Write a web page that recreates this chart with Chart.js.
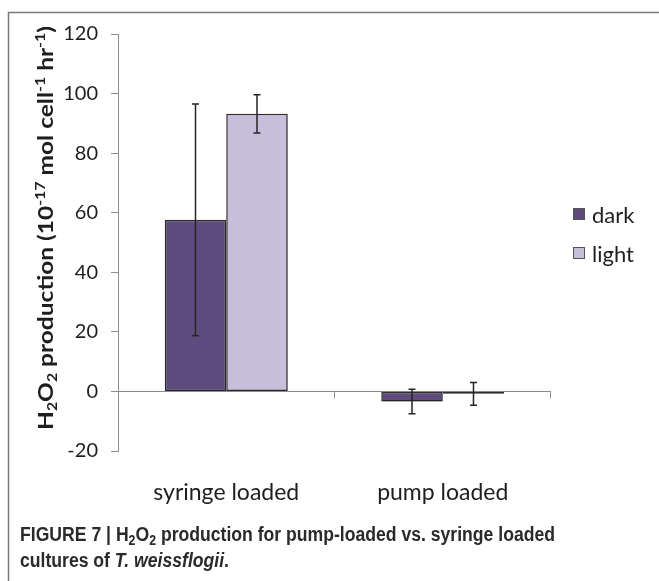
<!DOCTYPE html>
<html><head><meta charset="utf-8">
<script src="https://cdn.jsdelivr.net/npm/chart.js@4.4.1/dist/chart.umd.min.js"></script>
<style>
html,body{margin:0;padding:0;background:#fff;}
#wrap{position:relative;width:659px;height:581px;overflow:hidden;}
#c{position:absolute;left:0;top:0;}
#cap{position:absolute;left:20px;top:521px;font:bold 20px 'Liberation Sans',Arial,sans-serif;line-height:26px;color:#2a2a2a;white-space:nowrap;transform-origin:0 0;}
#cap span.ln{display:inline-block;}
#cap sub{font-size:14px;line-height:0;position:relative;top:1px;vertical-align:-3px;}
</style>
</head><body>
<div id="wrap">
<canvas id="c" width="659" height="581"></canvas>
<div id="cap"><span class="ln" id="l1">FIGURE 7 | H<sub>2</sub>O<sub>2</sub> production for pump-loaded vs. syringe loaded</span><br><span class="ln">cultures of <i>T. weissflogii</i>.</span></div>
</div>
<script>
// ---- data ----
const categories = ['syringe loaded', 'pump loaded'];
const seriesNames = ['dark', 'light'];
const darkValues = [57.6, -3.4];
const lightValues = [93.2, -0.8];
const darkErrors = [38.9, 4.1];
const lightErrors = [6.4, 3.8];
const yTicks = [-20, 0, 20, 40, 60, 80, 100, 120];
const yTitleParts = [
  ['H', 0], ['2', 1], ['O', 0], ['2', 1], [' production (10', 0], ['-17', -1],
  [' mol cell', 0], ['-1', -1], [' hr', 0], ['-1', -1], [')', 0]
];

const AXIS = '#8c8c8c';
const TXT = '#1e1e1e';
const FONT = 'Lato, "Open Sans", sans-serif';

const frameAndExtras = {
  id: 'extras',
  beforeDraw(chart) {
    const ctx = chart.ctx;
    ctx.save();
    ctx.strokeStyle = '#7a7a7a';
    ctx.lineWidth = 1.5;
    ctx.beginPath();
    ctx.moveTo(8.5, 581); ctx.lineTo(8.5, 12.5); ctx.lineTo(659, 12.5);
    ctx.stroke();
    ctx.restore();
  },
  beforeDatasetDraw(chart) {
    const ctx = chart.ctx;
    ctx.save();
    ctx.shadowColor = 'rgba(0,0,0,0.28)';
    ctx.shadowBlur = 3;
    ctx.shadowOffsetX = 1;
    ctx.shadowOffsetY = 2;
  },
  afterDatasetDraw(chart) {
    chart.ctx.restore();
  },
  afterDatasetsDraw(chart) {
    const ctx = chart.ctx;
    const ys = chart.scales.y;
    const area = chart.chartArea;
    ctx.save();
    // category boundary tick marks below the zero line
    const y0 = Math.round(ys.getPixelForValue(0)) + 0.5;
    ctx.strokeStyle = AXIS; ctx.lineWidth = 1;
    const n = categories.length;
    for (let i = 1; i <= n; i++) {
      const x = Math.round(area.left + (area.right - area.left) * i / n) - 0.5;
      ctx.beginPath(); ctx.moveTo(x, y0); ctx.lineTo(x, y0 + 7); ctx.stroke();
    }
    // error bars
    const errs = [darkErrors, lightErrors];
    ctx.strokeStyle = '#262626'; ctx.lineWidth = 1.5;
    chart.data.datasets.forEach((ds, di) => {
      const meta = chart.getDatasetMeta(di);
      meta.data.forEach((el, j) => {
        const v = ds.data[j], e = errs[di][j];
        const x = el.x;
        const yt = ys.getPixelForValue(v + e), yb = ys.getPixelForValue(v - e);
        ctx.beginPath();
        ctx.moveTo(x, yt); ctx.lineTo(x, yb);
        ctx.moveTo(x - 3.5, yt); ctx.lineTo(x + 3.5, yt);
        ctx.moveTo(x - 3.5, yb); ctx.lineTo(x + 3.5, yb);
        ctx.stroke();
      });
    });
    ctx.restore();
  },
  afterDraw(chart) {
    const ctx = chart.ctx;
    ctx.save();
    // legend
    const items = chart.data.datasets;
    const legY = [214, 253];
    items.forEach((ds, i) => {
      const cy = legY[i];
      ctx.fillStyle = ds.backgroundColor;
      ctx.fillRect(573, cy - 6, 11, 11);
      ctx.strokeStyle = '#555'; ctx.lineWidth = 1;
      ctx.strokeRect(573.5, cy - 5.5, 11, 11);
      ctx.fillStyle = TXT;
      ctx.font = '22px ' + FONT;
      ctx.textBaseline = 'alphabetic';
      ctx.textAlign = 'left';
      ctx.fillText(ds.label, 592, cy + 9);
    });
    // y-axis title with sub/superscripts
    const big = 'bold 20px ' + FONT, small = 'bold 13px ' + FONT;
    let total = 0;
    yTitleParts.forEach(([t, k]) => { ctx.font = k ? small : big; total += ctx.measureText(t).width; });
    const target = 404;
    const sx = target / total;
    ctx.translate(53, 228);
    ctx.rotate(-Math.PI / 2);
    ctx.scale(sx, 1);
    ctx.fillStyle = TXT;
    ctx.textBaseline = 'alphabetic';
    ctx.textAlign = 'left';
    let x = -total / 2;
    yTitleParts.forEach(([t, k]) => {
      ctx.font = k ? small : big;
      const dy = k === 1 ? 4 : (k === -1 ? -8 : 0);
      ctx.fillText(t, x, dy);
      x += ctx.measureText(t).width;
    });
    ctx.restore();
  }
};

new Chart(document.getElementById('c'), {
  type: 'bar',
  data: {
    labels: categories,
    datasets: [
      { label: seriesNames[0], data: darkValues, backgroundColor: '#5e4a7c', borderColor: '#2e2e2e', borderWidth: 1.5, borderSkipped: false },
      { label: seriesNames[1], data: lightValues, backgroundColor: '#c7bedb', borderColor: '#2e2e2e', borderWidth: 1.5, borderSkipped: false }
    ]
  },
  options: {
    responsive: false,
    animation: false,
    devicePixelRatio: 1,
    layout: { padding: { left: 0, top: 34, right: 108, bottom: 0 } },
    plugins: { legend: { display: false }, tooltip: { enabled: false } },
    datasets: { bar: { categoryPercentage: 0.568, barPercentage: 1.0 } },
    scales: {
      x: {
        grid: { display: false },
        border: { display: false },
        ticks: { color: TXT, font: { family: FONT, size: 23 }, padding: 20 },
        afterFit(s) { s.height = 130; s.paddingLeft = 0; s.paddingRight = 0; }
      },
      y: {
        min: -20, max: 120,
        afterBuildTicks(s) { s.ticks = yTicks.map(v => ({ value: v })); },
        grid: {
          color: c => (c.tick && c.tick.value === 0) ? AXIS : 'rgba(0,0,0,0)',
          tickColor: AXIS, tickLength: 7, lineWidth: 1
        },
        border: { display: true, color: AXIS, width: 1 },
        ticks: { color: TXT, font: { family: FONT, size: 20 }, padding: 13 },
        afterFit(s) { s.width = 118; s.paddingTop = 0; s.paddingBottom = 0; }
      }
    }
  },
  plugins: [frameAndExtras]
});

// fit caption to target width
(function () {
  const cap = document.getElementById('cap');
  const w = document.getElementById('l1').getBoundingClientRect().width;
  cap.style.transform = 'scaleX(' + (535 / w) + ')';
})();
</script>
</body></html>
